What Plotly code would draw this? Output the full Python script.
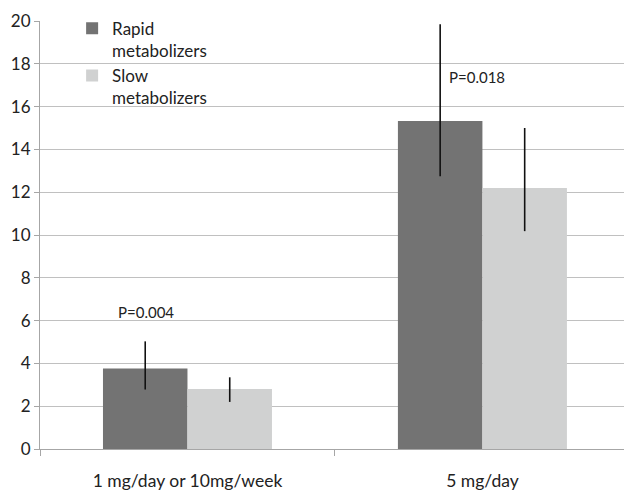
import plotly.graph_objects as go

categories = ["1 mg/day or 10mg/week", "5 mg/day"]
rapid = [3.76, 15.33]
rapid_err_plus = [1.27, 4.52]
rapid_err_minus = [0.98, 2.59]
slow = [2.80, 12.20]
slow_err_plus = [0.55, 2.80]
slow_err_minus = [0.60, 2.02]
p_labels = ["P=0.004", "P=0.018"]
p_y = [6.4, 17.4]
y_ticks = [0, 2, 4, 6, 8, 10, 12, 14, 16, 18, 20]

FONT = "Lato"
TXT = "#222222"

fig = go.Figure()
fig.add_trace(go.Bar(
    x=categories, y=rapid, name="Rapid<br>metabolizers",
    marker=dict(color="#737373", line=dict(width=0)),
    error_y=dict(type="data", array=rapid_err_plus, arrayminus=rapid_err_minus,
                 symmetric=False, color="#111111", thickness=1.6, width=0),
))
fig.add_trace(go.Bar(
    x=categories, y=slow, name="Slow<br>metabolizers",
    marker=dict(color="#d0d1d1", line=dict(width=0)),
    error_y=dict(type="data", array=slow_err_plus, arrayminus=slow_err_minus,
                 symmetric=False, color="#111111", thickness=1.6, width=0),
))

fig.add_annotation(x=-0.142, y=p_y[0], xref="x", yref="y", text=p_labels[0],
                   showarrow=False, xanchor="center", yanchor="middle",
                   font=dict(family=FONT, size=15, color=TXT))
fig.add_annotation(x=0.88, y=p_y[1], xref="x", yref="y", text=p_labels[1],
                   showarrow=False, xanchor="left", yanchor="middle",
                   font=dict(family=FONT, size=15, color=TXT))

fig.update_layout(
    width=624, height=490,
    margin=dict(l=40, r=0, t=21, b=41),
    paper_bgcolor="white", plot_bgcolor="white",
    barmode="group", bargap=0.427, bargroupgap=0,
    font=dict(family=FONT, size=17.5, color=TXT),
    showlegend=True,
    legend=dict(x=0.055, y=1.024, xanchor="left", yanchor="top",
                bgcolor="rgba(0,0,0,0)", font=dict(family=FONT, size=17, color=TXT),
                valign="top", tracegroupgap=0),
    xaxis=dict(type="category", range=[-0.5, 1.48], showgrid=False,
               showline=True, linecolor="#a6a6a6", linewidth=1,
               ticks="outside", tickson="boundaries", ticklen=6, tickcolor="#a6a6a6",
               ticklabelstandoff=16, tickfont=dict(family=FONT, size=17.5, color=TXT)),
    yaxis=dict(range=[0, 20], tickvals=y_ticks, showgrid=True, gridcolor="#c0c0c0",
               gridwidth=1, showline=True, linecolor="#a6a6a6", linewidth=1,
               ticks="outside", ticklen=5, tickcolor="#a6a6a6", zeroline=False,
               tickfont=dict(family=FONT, size=17, color=TXT)),
)

fig.write_html("out.html")
